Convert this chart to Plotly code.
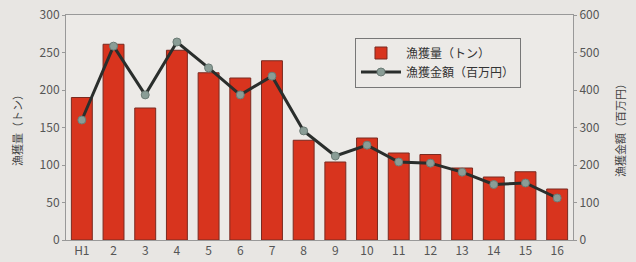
import plotly.graph_objects as go

categories = ["H1", "2", "3", "4", "5", "6", "7", "8", "9", "10", "11", "12", "13", "14", "15", "16"]
catch_tons = [190, 261, 176, 253, 223, 216, 239, 133, 104, 136, 116, 114, 96, 84, 91, 68]
catch_value = [320, 517, 387, 528, 459, 387, 437, 291, 224, 253, 208, 205, 181, 148, 152, 112]
left_ticks = [0, 50, 100, 150, 200, 250, 300]
right_ticks = [0, 100, 200, 300, 400, 500, 600]

font = "Noto Sans CJK JP"
tick_color = "#555"

fig = go.Figure()
fig.add_trace(go.Bar(
    x=categories, y=catch_tons, name="漁獲量（トン）",
    marker=dict(color="#d8341e", line=dict(color="#7a2a20", width=1)),
    yaxis="y",
))
fig.add_trace(go.Scatter(
    x=categories, y=catch_value, name="漁獲金額（百万円）",
    mode="lines+markers",
    line=dict(color="#2a2e2c", width=3),
    marker=dict(color="#8a9d96", size=8, line=dict(color="#6b7b75", width=1)),
    yaxis="y2",
))

fig.update_layout(
    width=636, height=262,
    margin=dict(l=66, r=63, t=15, b=22),
    paper_bgcolor="#e8e6e3",
    plot_bgcolor="#eceae7",
    bargap=0.34,
    showlegend=True,
    legend=dict(
        x=0.57, y=0.9, xanchor="left", yanchor="top",
        bgcolor="#eceae7", bordercolor="#777", borderwidth=1,
        font=dict(family=font, size=12, color="#333"),
        tracegroupgap=0, itemwidth=40,
    ),
    font=dict(family=font, color=tick_color),
    xaxis=dict(
        type="category", showgrid=False, range=[-0.5, 15.5],
        showline=True, linecolor="#999", linewidth=1, mirror=True,
        tickfont=dict(size=12, color=tick_color),
        ticks="", ticklen=0, automargin=False,
    ),
    yaxis=dict(
        range=[0, 300], tickvals=left_ticks, showgrid=False,
        showline=True, linecolor="#999", linewidth=1,
        ticks="outside", ticklen=3, tickcolor="#999",
        tickfont=dict(size=12, color=tick_color),
        title=dict(text="漁獲量（トン）", font=dict(size=11, color="#444"), standoff=14),
        zeroline=False, automargin=False,
    ),
    yaxis2=dict(
        range=[0, 600], tickvals=right_ticks, overlaying="y", side="right",
        showgrid=False, showline=True, linecolor="#999", linewidth=1,
        ticks="outside", ticklen=3, tickcolor="#999",
        tickfont=dict(size=12, color=tick_color),
        title=dict(text="漁獲金額（百万円）", font=dict(size=11, color="#444"), standoff=18),
        zeroline=False, automargin=False,
    ),
)

fig.write_html(
    "out.html",
    config={"displayModeBar": False},
    post_script="document.body.style.margin='0';document.body.style.background='#e8e6e3';",
)
